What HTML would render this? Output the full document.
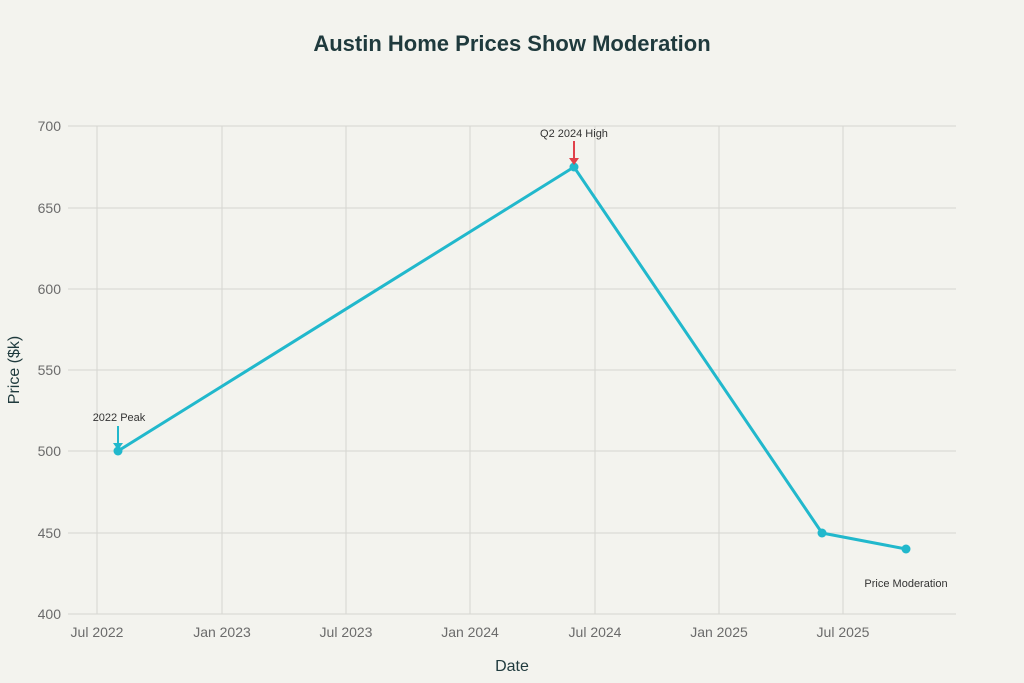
<!DOCTYPE html>
<html><head><meta charset="utf-8"><style>
body{margin:0;background:#f3f3ee;}
svg{display:block;font-family:"Liberation Sans",sans-serif;}
</style></head><body>
<svg width="1024" height="683" viewBox="0 0 1024 683">
<rect width="1024" height="683" fill="#f3f3ee"/>
<text x="512" y="51" text-anchor="middle" font-size="22" font-weight="bold" fill="#1f3a3d">Austin Home Prices Show Moderation</text>
<g stroke="#d6d6d0" stroke-width="1">
<line x1="68" x2="956" y1="126" y2="126"/>
<line x1="68" x2="956" y1="208" y2="208"/>
<line x1="68" x2="956" y1="289" y2="289"/>
<line x1="68" x2="956" y1="370" y2="370"/>
<line x1="68" x2="956" y1="451" y2="451"/>
<line x1="68" x2="956" y1="533" y2="533"/>
<line x1="68" x2="956" y1="614" y2="614"/>
<line x1="97" x2="97" y1="126" y2="614"/>
<line x1="222" x2="222" y1="126" y2="614"/>
<line x1="346" x2="346" y1="126" y2="614"/>
<line x1="470" x2="470" y1="126" y2="614"/>
<line x1="595" x2="595" y1="126" y2="614"/>
<line x1="719" x2="719" y1="126" y2="614"/>
<line x1="843" x2="843" y1="126" y2="614"/>
</g>
<g font-size="14" fill="#6b6b6b" text-anchor="end">
<text x="61" y="131">700</text><text x="61" y="213">650</text><text x="61" y="294">600</text>
<text x="61" y="375">550</text><text x="61" y="456">500</text><text x="61" y="538">450</text><text x="61" y="619">400</text>
</g>
<g font-size="14" fill="#6b6b6b" text-anchor="middle">
<text x="97" y="637">Jul 2022</text><text x="222" y="637">Jan 2023</text><text x="346" y="637">Jul 2023</text>
<text x="470" y="637">Jan 2024</text><text x="595" y="637">Jul 2024</text><text x="719" y="637">Jan 2025</text><text x="843" y="637">Jul 2025</text>
</g>
<text x="512" y="671" text-anchor="middle" font-size="16" fill="#1f3a3d">Date</text>
<text transform="translate(19,370) rotate(-90)" text-anchor="middle" font-size="16" fill="#1f3a3d">Price ($k)</text>
<polyline points="118,451 574,167 822,533 906,549" fill="none" stroke="#21b8cc" stroke-width="3"/>
<g fill="#21b8cc"><circle cx="118" cy="451" r="4.5"/><circle cx="574" cy="167" r="4.5"/><circle cx="822" cy="533" r="4.5"/><circle cx="906" cy="549" r="4.5"/></g>
<line x1="118" y1="426" x2="118" y2="443" stroke="#21b8cc" stroke-width="2"/>
<polygon points="113,443 123,443 118,450" fill="#21b8cc"/>
<line x1="574" y1="141" x2="574" y2="159" stroke="#e0404a" stroke-width="2"/>
<polygon points="569,158 579,158 574,165" fill="#e0404a"/>
<g font-size="11" fill="#333">
<text x="119" y="421" text-anchor="middle">2022 Peak</text>
<text x="574" y="137" text-anchor="middle">Q2 2024 High</text>
<text x="906" y="587" text-anchor="middle">Price Moderation</text>
</g>
</svg>
</body></html>
